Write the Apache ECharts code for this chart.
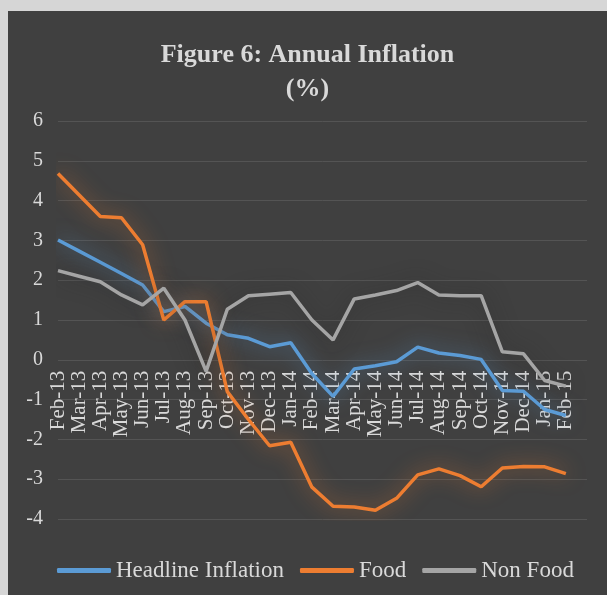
<!DOCTYPE html>
<html>
<head>
<meta charset="utf-8">
<script src="https://cdn.jsdelivr.net/npm/echarts@6/dist/echarts.min.js"></script>
<style>
  html, body { margin: 0; padding: 0; background: #d6d6d6; width: 607px; height: 595px; overflow: hidden; }
  #chart { position: absolute; left: 8px; top: 11px; width: 599px; height: 584px; }
</style>
</head>
<body>
<div id="chart"></div>
<script>
// Monthly annual inflation rates, Feb-13 to Feb-15 (%)
const months = ['Feb-13','Mar-13','Apr-13','May-13','Jun-13','Jul-13','Aug-13','Sep-13','Oct-13','Nov-13','Dec-13','Jan-14',
                'Feb-14','Mar-14','Apr-14','May-14','Jun-14','Jul-14','Aug-14','Sep-14','Oct-14','Nov-14','Dec-14','Jan-15','Feb-15'];
const headline = [3.01, 2.73, 2.45, 2.17, 1.88, 1.21, 1.34, 0.92, 0.63, 0.54, 0.33, 0.43,
                  -0.35, -0.92, -0.23, -0.15, -0.05, 0.32, 0.17, 0.11, 0.01, -0.77, -0.79, -1.25, -1.40];
const food = [4.68, 4.14, 3.60, 3.57, 2.89, 1.00, 1.46, 1.46, -0.80, -1.50, -2.16, -2.07,
              -3.20, -3.68, -3.70, -3.78, -3.48, -2.89, -2.74, -2.91, -3.19, -2.72, -2.68, -2.69, -2.86];
const nonFood = [2.24, 2.10, 1.96, 1.63, 1.38, 1.80, 1.00, -0.29, 1.27, 1.61, 1.65, 1.69,
                 1.00, 0.50, 1.53, 1.63, 1.74, 1.94, 1.63, 1.61, 1.61, 0.20, 0.15, -0.52, -0.66];
const seriesNames = ['Headline Inflation', 'Food', 'Non Food'];

const textColor = '#d9d9d9';
const font = 'Liberation Serif';

// value-axis range; the month axis sits on the zero line
const yMin = -4, yMax = 6;
const gridTop = 110, gridBottom = 76, chartHeight = 584;
const plotHeight = chartHeight - gridTop - gridBottom;
const zeroOffset = -plotHeight * (0 - yMin) / (yMax - yMin);

function lineSeries(name, data, color, glow) {
  return {
    name: name,
    type: 'line',
    data: data,
    symbol: 'none',
    smooth: false,
    z: 3,
    lineStyle: { color: color, width: 3.5, shadowColor: glow, shadowBlur: 20 },
    itemStyle: { color: color }
  };
}

const chart = echarts.init(document.getElementById('chart'));
chart.setOption({
  backgroundColor: '#404040',
  animation: false,
  title: {
    text: 'Figure 6: Annual Inflation\n(%)',
    left: 'center',
    top: 22,
    textStyle: { color: textColor, fontFamily: font, fontWeight: 'bold', fontSize: 26, lineHeight: 34 }
  },
  grid: { left: 50, right: 20, top: gridTop, bottom: gridBottom },
  xAxis: {
    type: 'category',
    data: months,
    boundaryGap: false,
    max: 25,
    offset: zeroOffset,
    axisLine: { show: false, onZero: false },
    axisTick: { show: false },
    axisLabel: { interval: 0, rotate: 90, margin: 11, color: textColor, fontFamily: font, fontSize: 21 },
    splitLine: { show: false }
  },
  yAxis: {
    type: 'value',
    min: yMin,
    max: yMax,
    interval: 1,
    axisLine: { show: false },
    axisTick: { show: false },
    axisLabel: { margin: 15, color: textColor, fontFamily: font, fontSize: 20 },
    splitLine: { show: true, lineStyle: { color: '#545454', width: 1 } }
  },
  legend: {
    data: seriesNames,
    left: 44,
    top: 543,
    itemWidth: 54,
    itemHeight: 5,
    itemGap: 16,
    icon: 'roundRect',
    textStyle: { color: textColor, fontFamily: font, fontSize: 23 }
  },
  series: [
    lineSeries(seriesNames[0], headline, '#5B9BD5', 'rgba(91,155,213,0.7)'),
    lineSeries(seriesNames[1], food, '#ED7D31', 'rgba(237,125,49,0.7)'),
    lineSeries(seriesNames[2], nonFood, '#A5A5A5', 'rgba(40,40,40,0.7)')
  ]
});
</script>
</body>
</html>
